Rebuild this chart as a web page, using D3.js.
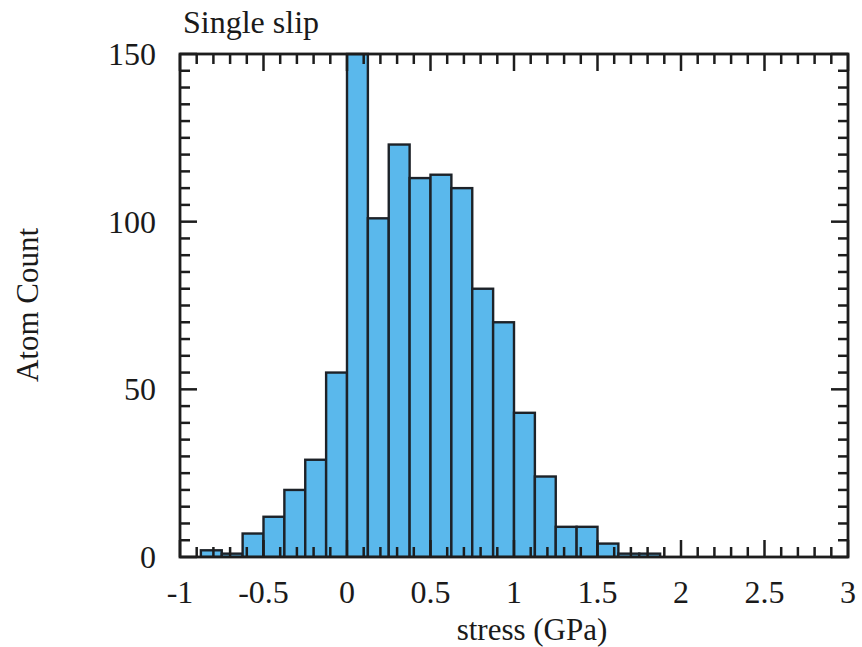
<!DOCTYPE html>
<html>
<head>
<meta charset="utf-8">
<script src="https://cdn.jsdelivr.net/npm/d3@7/dist/d3.min.js"></script>
<style>
  body { margin: 0; background: #fff; }
  svg text { font-family: "Liberation Serif", "DejaVu Serif", serif; fill: #1a1a1a; }
</style>
</head>
<body>
<svg id="chart" width="862" height="647"></svg>
<script>
// histogram bins: left edge of each bin (GPa), bin width 0.125
const binStarts = [-1, -0.875, -0.75, -0.625, -0.5, -0.375, -0.25, -0.125,
  0, 0.125, 0.25, 0.375, 0.5, 0.625, 0.75, 0.875, 1, 1.125, 1.25, 1.375,
  1.5, 1.625, 1.75];
const counts = [0, 2, 1, 7, 12, 20, 29, 55,
  150, 101, 123, 113, 114, 110, 80, 70, 43, 24, 9, 9,
  4, 1, 1];
const binWidth = 0.125;

const xTicks = [-1, -0.5, 0, 0.5, 1, 1.5, 2, 2.5, 3];
const yTicks = [0, 50, 100, 150];

const svg = d3.select("#chart");
const mLeft = 180, mRight = 848, mTop = 54, mBottom = 557;

const x = d3.scaleLinear().domain([-1, 3]).range([mLeft, mRight]);
const y = d3.scaleLinear().domain([0, 150]).range([mBottom, mTop]);

const data = binStarts.map((b, i) => ({ x0: b, x1: b + binWidth, n: counts[i] }));

svg.append("clipPath").attr("id", "clip")
  .append("rect").attr("x", mLeft).attr("y", mTop - 2)
  .attr("width", mRight - mLeft).attr("height", mBottom - mTop + 2);

svg.append("g").attr("clip-path", "url(#clip)")
  .selectAll("rect")
  .data(data.filter(d => d.n > 0))
  .enter()
  .append("rect")
  .attr("x", d => x(d.x0))
  .attr("y", d => y(d.n))
  .attr("width", d => x(d.x1) - x(d.x0))
  .attr("height", d => y(0) - y(d.n))
  .attr("fill", "#5ab8ec")
  .attr("stroke", "#1d2228")
  .attr("stroke-width", 2.4);

// ticks (inward on all four sides)
const xMinor = d3.range(-1, 3.0001, 0.1).map(v => +v.toFixed(2));
const yMinor = d3.range(0, 150.001, 5);
const isMajorX = v => Math.abs(v * 2 - Math.round(v * 2)) < 1e-6;
const isMajorY = v => v % 50 === 0;

const ticks = svg.append("g").attr("stroke", "#1d1d1d").attr("stroke-width", 2.5);
xMinor.forEach(v => {
  const len = isMajorX(v) ? 17 : 10;
  ticks.append("line").attr("x1", x(v)).attr("x2", x(v)).attr("y1", mBottom).attr("y2", mBottom - len);
  ticks.append("line").attr("x1", x(v)).attr("x2", x(v)).attr("y1", mTop).attr("y2", mTop + len);
});
yMinor.forEach(v => {
  const len = isMajorY(v) ? 17 : 10;
  ticks.append("line").attr("x1", mLeft).attr("x2", mLeft + len).attr("y1", y(v)).attr("y2", y(v));
  ticks.append("line").attr("x1", mRight).attr("x2", mRight - len).attr("y1", y(v)).attr("y2", y(v));
});

svg.append("rect")
  .attr("x", mLeft).attr("y", mTop)
  .attr("width", mRight - mLeft).attr("height", mBottom - mTop)
  .attr("fill", "none").attr("stroke", "#1d1d1d").attr("stroke-width", 2.8);

// tick labels
svg.append("g").selectAll("text")
  .data(xTicks).enter().append("text")
  .attr("x", d => x(d)).attr("y", 603)
  .attr("text-anchor", "middle")
  .attr("font-size", 32)
  .text(d => String(d));

svg.append("g").selectAll("text")
  .data(yTicks).enter().append("text")
  .attr("x", 156).attr("y", d => y(d) + 11)
  .attr("text-anchor", "end")
  .attr("font-size", 32)
  .text(d => d);

svg.append("text")
  .attr("x", 183).attr("y", 33)
  .attr("font-size", 32)
  .text("Single slip");

svg.append("text")
  .attr("x", 532).attr("y", 640)
  .attr("text-anchor", "middle")
  .attr("font-size", 31)
  .text("stress (GPa)");

svg.append("text")
  .attr("transform", "translate(38,305) rotate(-90)")
  .attr("text-anchor", "middle")
  .attr("font-size", 31)
  .text("Atom Count");
</script>
</body>
</html>
